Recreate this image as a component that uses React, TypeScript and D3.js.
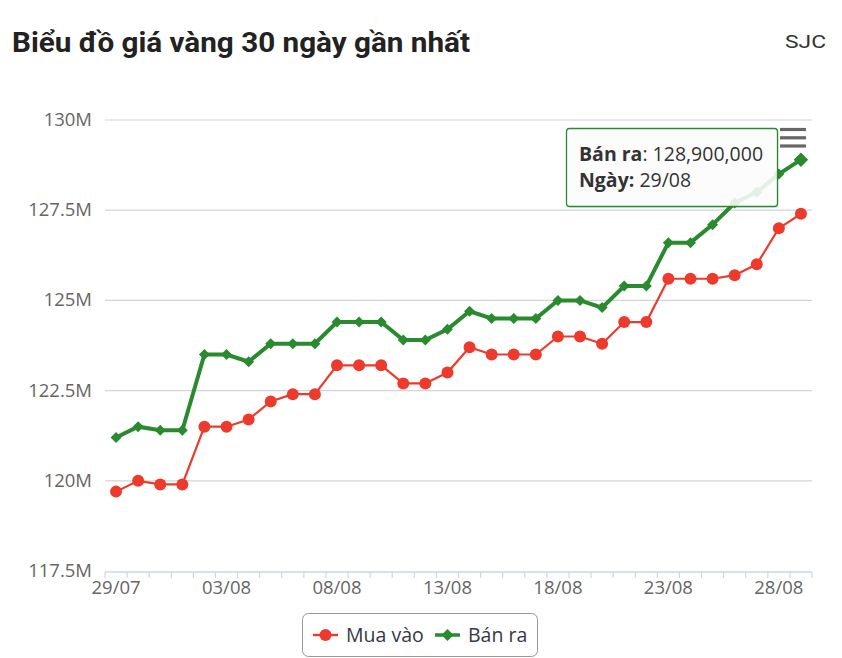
import React from "react";
import * as d3 from "d3";

const dates = [
    "29/07", "30/07", "31/07", "01/08", "02/08", "03/08", "04/08", "05/08",
    "06/08", "07/08", "08/08", "09/08", "10/08", "11/08", "12/08", "13/08",
    "14/08", "15/08", "16/08", "17/08", "18/08", "19/08", "20/08", "21/08",
    "22/08", "23/08", "24/08", "25/08", "26/08", "27/08", "28/08", "29/08",
];

// prices in millions VND
const muaVao = [
    119.7, 120.0, 119.9, 119.9, 121.5, 121.5, 121.7, 122.2, 122.4, 122.4,
    123.2, 123.2, 123.2, 122.7, 122.7, 123.0, 123.7, 123.5, 123.5, 123.5,
    124.0, 124.0, 123.8, 124.4, 124.4, 125.6, 125.6, 125.6, 125.7, 126.0,
    127.0, 127.4,
];
const banRa = [
    121.2, 121.5, 121.4, 121.4, 123.5, 123.5, 123.3, 123.8, 123.8, 123.8,
    124.4, 124.4, 124.4, 123.9, 123.9, 124.2, 124.7, 124.5, 124.5, 124.5,
    125.0, 125.0, 124.8, 125.4, 125.4, 126.6, 126.6, 127.1, 127.7, 128.0,
    128.5, 128.9,
];
const yTicks = [117.5, 120, 122.5, 125, 127.5, 130];
const seriesNames = ["Mua vào", "Bán ra"];

const RED = "#ec3a2c";
const GREEN = "#2a8a2f";
const FONT = "'Open Sans', 'DejaVu Sans', sans-serif";

export default function App() {
    const W = 842, H = 658;
    const left = 105, right = 812, top = 120, bottom = 571;

    const x = d3.scaleBand<string>().domain(dates).range([left, right]);
    const cx = (d: string) => (x(d) as number) + x.bandwidth() / 2;
    const y = d3.scaleLinear().domain([117.5, 130]).range([bottom, top]);

    const line = d3.line<number>()
        .x((_, i) => cx(dates[i]))
        .y(v => y(v));

    const diamond = (px: number, py: number, r: number) =>
        `M${px},${py - r}L${px + r},${py}L${px},${py + r}L${px - r},${py}Z`;

    const fmt = d3.format(",");
    const hoverIdx = banRa.length - 1;
    const hx = cx(dates[hoverIdx]);
    const hy = y(banRa[hoverIdx]);

    const tickEdges = dates.map(d => x(d) as number).concat([right]);

    return (
        <svg width={W} height={H} style={{position: "absolute", left: 0, top: 0, background: "#fff"}}>
            {/* heading */}
            <text x={12} y={52} fontFamily="Roboto, sans-serif" fontWeight={700} fontSize={27}
                  fill="#222" textLength={458} lengthAdjust="spacingAndGlyphs">
                Biểu đồ giá vàng 30 ngày gần nhất
            </text>
            <text x={826} y={48} textAnchor="end" fontFamily="Roboto, sans-serif" fontSize={19} fill="#333"
                  textLength={41} lengthAdjust="spacingAndGlyphs">SJC</text>

            {/* grid + y labels */}
            {yTicks.map(t => (
                <g key={t}>
                    {t !== 117.5 && <line x1={left} x2={right} y1={y(t)} y2={y(t)} stroke="#d4d4d4" strokeWidth={1.2}/>}
                    <text x={92} y={y(t) + 6} textAnchor="end" fontFamily={FONT} fontSize={18.5} fill="#666">
                        {`${t}M`}
                    </text>
                </g>
            ))}

            {/* x axis */}
            <line x1={left} x2={right} y1={bottom + 1} y2={bottom + 1} stroke="#ccd6eb" strokeWidth={1.5}/>
            {tickEdges.map((tx, i) => (
                <line key={i} x1={tx} x2={tx} y1={bottom + 1} y2={bottom + 7} stroke="#ccd6eb" strokeWidth={1.2}/>
            ))}
            {dates.map((d, i) => i % 5 === 0 && (
                <text key={d} x={cx(d)} y={594} textAnchor="middle" fontFamily={FONT} fontSize={18.5} fill="#666">
                    {d}
                </text>
            ))}

            {/* series */}
            <path d={line(muaVao) as string} fill="none" stroke={RED} strokeWidth={2.2}/>
            {muaVao.map((v, i) => (
                <circle key={i} cx={cx(dates[i])} cy={y(v)} r={6} fill={RED}/>
            ))}
            <path d={line(banRa) as string} fill="none" stroke={GREEN} strokeWidth={4}/>
            {banRa.map((v, i) => (
                <path key={i} d={diamond(cx(dates[i]), y(v), i === hoverIdx ? 7 : 5.5)} fill={GREEN}/>
            ))}

            {/* menu button */}
            {[129.5, 137.8, 146].map(ly => (
                <line key={ly} x1={780} x2={806} y1={ly} y2={ly} stroke="#666" strokeWidth={3.2}/>
            ))}

            {/* tooltip */}
            <g>
                <rect x={568} y={130} width={211} height={78} rx={3} fill="#000" opacity={0.06}/>
                <rect x={567} y={129} width={211} height={78} rx={3} fill="#000" opacity={0.05}/>
                <rect x={566.5} y={128.5} width={211} height={78} rx={3} fill="rgba(255,255,255,0.88)"
                      stroke={GREEN} strokeWidth={1.3}/>
                <text x={579} y={161} fontFamily={FONT} fontSize={19.5} fill="#333">
                    <tspan fontWeight={700}>{seriesNames[1]}</tspan>
                    <tspan>: {fmt(Math.round(banRa[hoverIdx] * 1e6))}</tspan>
                </text>
                <text x={579} y={187} fontFamily={FONT} fontSize={19.5} fill="#333">
                    <tspan fontWeight={700}>Ngày:</tspan>
                    <tspan> {dates[hoverIdx]}</tspan>
                </text>
            </g>
            <path d={diamond(hx, hy, 7)} fill={GREEN}/>

            {/* legend */}
            <rect x={302.5} y={613.5} width={235} height={43} rx={6} fill="#fff" stroke="#999" strokeWidth={1}/>
            <line x1={313} x2={338} y1={635} y2={635} stroke={RED} strokeWidth={2.5}/>
            <circle cx={325.5} cy={635} r={6} fill={RED}/>
            <text x={346} y={642} fontFamily={FONT} fontSize={19.5} fill="#333a46">{seriesNames[0]}</text>
            <line x1={435} x2={460} y1={635} y2={635} stroke={GREEN} strokeWidth={3.5}/>
            <path d={diamond(447.5, 635, 6)} fill={GREEN}/>
            <text x={468} y={642} fontFamily={FONT} fontSize={19.5} fill="#333a46">{seriesNames[1]}</text>
        </svg>
    );
}
